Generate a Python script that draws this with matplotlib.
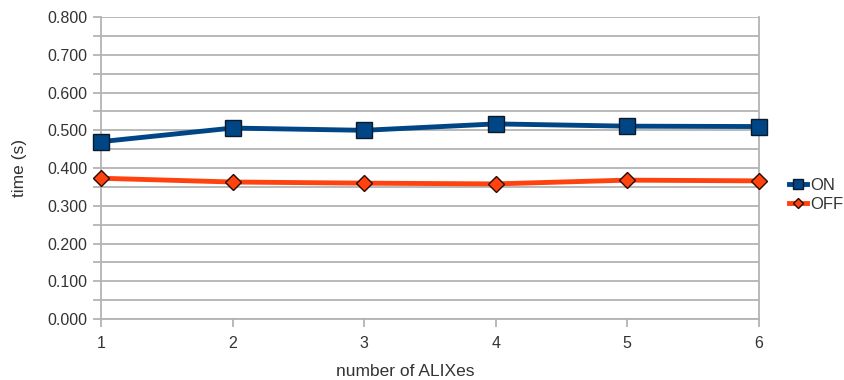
import matplotlib
matplotlib.use("Agg")
import matplotlib.pyplot as plt
from matplotlib.ticker import MultipleLocator, FormatStrFormatter

plt.rcParams['font.family'] = ['Liberation Sans', 'DejaVu Sans']

# measured run times per number of ALIXes
alixes = [1, 2, 3, 4, 5, 6]
time_on = [0.470, 0.506, 0.500, 0.517, 0.511, 0.510]
time_off = [0.373, 0.363, 0.360, 0.358, 0.368, 0.366]

GRID = '#b3b3b3'
TEXT = '#333333'

fig = plt.figure(figsize=(8.45, 3.8), dpi=100)
ax = fig.add_axes([0.1195, 0.1605, 0.7785, 0.7945])

ax.plot(alixes, time_on, color='#004586', lw=3.5, marker='s', ms=11,
        mec='#0a1a2a', mew=1.0, label='ON', zorder=4, clip_on=False)
ax.plot(alixes, time_off, color='#ff420e', lw=3.5, marker='D', ms=8,
        mec='#2a0a00', mew=1.0, label='OFF', zorder=3, clip_on=False)

ax.set_xlim(1, 6)
ax.set_ylim(0, 0.8)
ax.yaxis.set_major_locator(MultipleLocator(0.1))
ax.yaxis.set_minor_locator(MultipleLocator(0.05))
ax.yaxis.set_major_formatter(FormatStrFormatter('%.3f'))
ax.set_xticks(alixes)

ax.grid(True, which='both', axis='y', color=GRID, lw=1.3)
ax.spines['top'].set_visible(False)
for s in ['left', 'bottom', 'right']:
    ax.spines[s].set_color(GRID)
    ax.spines[s].set_linewidth(1.3)

ax.tick_params(axis='both', which='both', color=GRID, width=1.3, length=6,
               labelcolor=TEXT, labelsize=11.5)
ax.tick_params(axis='y', which='both', direction='out', pad=4)
ax.tick_params(axis='x', pad=6)

ax.set_xlabel('number of ALIXes', color=TEXT, fontsize=12.5, labelpad=8)
ax.xaxis.set_label_coords(0.462, -0.15)
ax.set_ylabel('time (s)', color=TEXT, fontsize=12.5)
ax.yaxis.set_label_coords(-0.113, 0.5)

leg = ax.legend(loc='center left', bbox_to_anchor=(1.035, 0.41), frameon=False,
                fontsize=12, handlelength=1.1, handletextpad=0.2,
                labelspacing=0.25, markerscale=0.7, borderaxespad=0)
for t in leg.get_texts():
    t.set_color(TEXT)

fig.savefig('out.png', dpi=100)
